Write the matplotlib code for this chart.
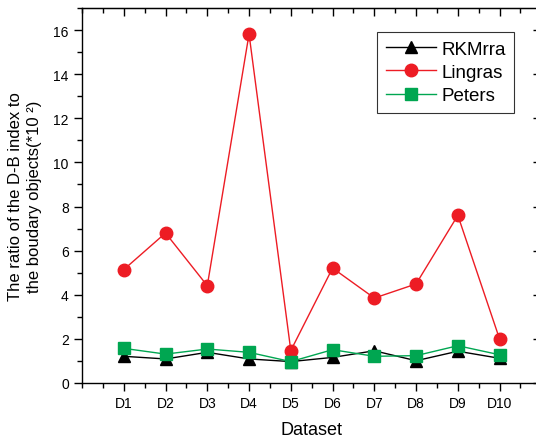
import numpy as np
import matplotlib
matplotlib.use('Agg')
import matplotlib.pyplot as plt
from matplotlib.ticker import MultipleLocator

plt.rcParams['font.family'] = ['Liberation Sans', 'DejaVu Sans']

# --- Data
datasets = ['D1', 'D2', 'D3', 'D4', 'D5', 'D6', 'D7', 'D8', 'D9', 'D10']
rkmrra = [1.21, 1.09, 1.39, 1.09, 0.97, 1.16, 1.46, 1.01, 1.44, 1.12]
lingras = [5.14, 6.80, 4.41, 15.82, 1.47, 5.21, 3.85, 4.49, 7.60, 1.99]
peters = [1.57, 1.31, 1.54, 1.39, 0.97, 1.51, 1.21, 1.24, 1.69, 1.28]

x = np.arange(1, len(datasets) + 1)

fig = plt.figure(figsize=(5.36, 4.39), dpi=100)
# right spine sits just outside the picture, as in the reference
ax = fig.add_axes([0.153, 0.1253, 0.857, 0.8542])

ax.plot(x, rkmrra, color='black', lw=1, marker='^', ms=9, label='RKMrra')
ax.plot(x, lingras, color='#ed1c24', lw=1, marker='o', ms=9, label='Lingras')
ax.plot(x, peters, color='#00a651', lw=1, marker='s', ms=8, label='Peters')

ax.set_xlim(0, 11)
ax.set_ylim(0, 17)
ax.set_xticks(x)
ax.set_xticklabels(datasets)
ax.xaxis.set_minor_locator(MultipleLocator(0.5))
ax.yaxis.set_major_locator(MultipleLocator(2))
ax.yaxis.set_minor_locator(MultipleLocator(1))

ax.tick_params(which='both', direction='out', top=False, right=False, labelsize=10)
ax.tick_params(which='major', length=6, width=1)
ax.tick_params(which='minor', length=3.5, width=1)

# inward ticks on the top and right spines
ax2 = ax.secondary_xaxis('top')
ax2.set_xticks(x)
ax2.xaxis.set_minor_locator(MultipleLocator(0.5))
ax2.tick_params(which='both', direction='in', labeltop=False)
ax2.tick_params(which='major', length=6, width=1)
ax2.tick_params(which='minor', length=3.5, width=1)
ay2 = ax.secondary_yaxis('right')
ay2.yaxis.set_major_locator(MultipleLocator(2))
ay2.yaxis.set_minor_locator(MultipleLocator(1))
ay2.tick_params(which='both', direction='in', labelright=False)
ay2.tick_params(which='major', length=6, width=1)
ay2.tick_params(which='minor', length=3.5, width=1)

for s in ax.spines.values():
    s.set_linewidth(1)

ax.set_xlabel('Dataset', fontsize=13, labelpad=8)
ax.set_ylabel('The ratio of the D-B index to\nthe boudary objects(*10 \u00b2)', fontsize=12,
              labelpad=8, linespacing=1.35)

leg = ax.legend(loc='upper right', bbox_to_anchor=(0.9404, 0.936), fontsize=13.5,
                frameon=True, fancybox=False, edgecolor='black', handlelength=2.7,
                borderpad=0.45, labelspacing=0.33, handletextpad=0.25, borderaxespad=0)
leg.get_frame().set_linewidth(0.8)

fig.savefig('out.png', dpi=100)
